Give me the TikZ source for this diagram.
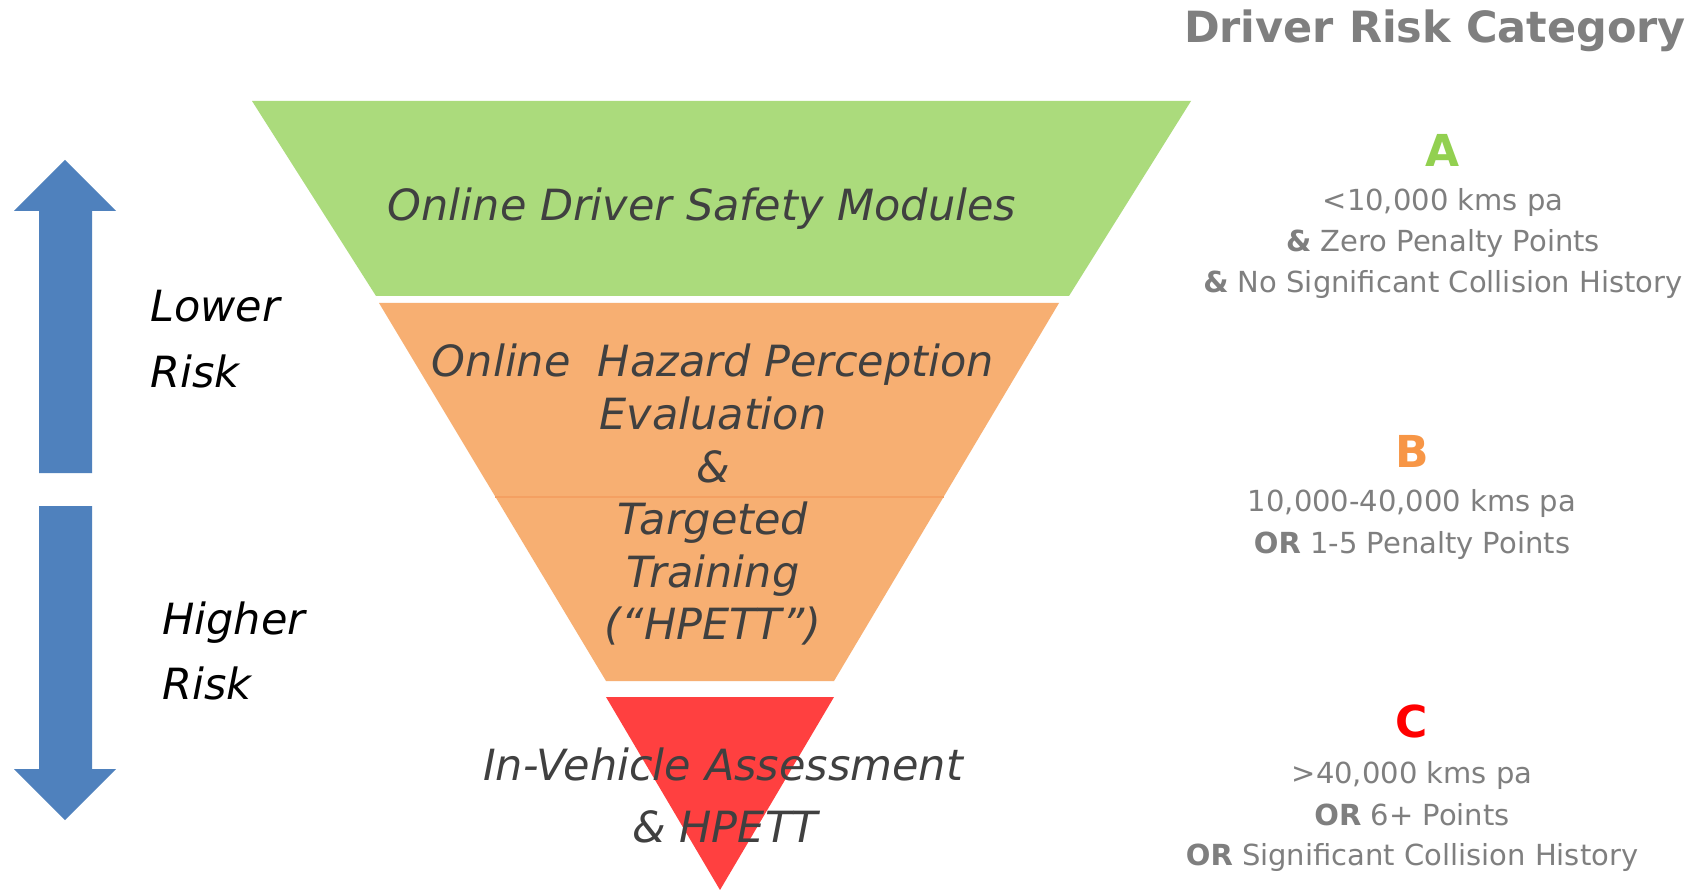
\documentclass[tikz,border=0pt]{standalone}
\usepackage{fontspec}
\setmainfont{DejaVu Sans}[ItalicFont={DejaVu Sans Oblique},BoldFont={DejaVu Sans Bold},BoldItalicFont={DejaVu Sans Bold Oblique}]
\definecolor{lgreen}{HTML}{ABDB7C}
\definecolor{lorange}{HTML}{F7AF72}
\definecolor{sepor}{HTML}{F4A062}
\definecolor{lred}{HTML}{FF4040}
\definecolor{arrowblue}{HTML}{4F81BD}
\definecolor{funnelgray}{HTML}{404040}
\definecolor{infogray}{HTML}{7F7F7F}
\definecolor{catA}{HTML}{92D050}
\definecolor{catB}{HTML}{F79646}
\definecolor{catC}{HTML}{FF0000}
\begin{document}
\begin{tikzpicture}[x=1pt,y=-1pt,
  funtext/.style={anchor=base,inner sep=0pt,text=funnelgray,font=\fontsize{43}{52}\selectfont\itshape},
  risktext/.style={anchor=base west,inner sep=0pt,text=black,font=\fontsize{43}{52}\selectfont\itshape},
  cattext/.style={anchor=base,inner sep=0pt,font=\fontsize{44}{52}\selectfont\bfseries},
  infotext/.style={anchor=base,inner sep=0pt,text=infogray,font=\fontsize{29}{36}\selectfont},
  titletext/.style={anchor=base,inner sep=0pt,text=infogray,font=\fontsize{43}{52}\selectfont\bfseries}]
\useasboundingbox (0,0) rectangle (1702,890);
\fill[white] (0,0) rectangle (1702,890);
% funnel
\fill[lgreen] (252,101) -- (1191,101) -- (1069,296) -- (376,296) -- cycle;
\fill[lorange] (379,303) -- (1059,303) -- (834,681) -- (606,681) -- cycle;
\draw[sepor,line width=1.5pt] (495,497) -- (944,497);
\fill[lred] (606,697) -- (834,697) -- (720,890) -- cycle;
% arrows
\fill[arrowblue] (65,160) -- (116,211) -- (92,211) -- (92,473) -- (39,473) -- (39,211) -- (14,211) -- cycle;
\fill[arrowblue] (39,506) -- (92,506) -- (92,769) -- (116,769) -- (65,820) -- (14,769) -- (39,769) -- cycle;
% title
\node[titletext] (title) at (1435,43) {Driver Risk Category};
% funnel texts
\node[funtext] (g1) at (702,221) {Online Driver Safety Modules};
\node[funtext] (o1) at (713,377) {Online\ \ Hazard Perception};
\node[funtext] (o2) at (713,429.5) {Evaluation};
\node[funtext] (o3) at (713,482) {\&};
\node[funtext] (o4) at (713,534.5) {Targeted};
\node[funtext] (o5) at (713,587) {Training};
\node[funtext] (o6) at (713,639.5) {(“HPETT”)};
\node[funtext] (r1) at (723,780) {In-Vehicle Assessment};
\node[funtext] (r2) at (725,842) {\& HPETT};
% left labels
\node[risktext] (lw1) at (150,322) {Lower};
\node[risktext] (lw2) at (150,387) {Risk};
\node[risktext] (hi1) at (162,634) {Higher};
\node[risktext] (hi2) at (162,699) {Risk};
% category A
\node[cattext,text=catA] (ca) at (1443,167) {A};
\node[infotext] (a1) at (1443,211) {<10,000 kms pa};
\node[infotext] (a2) at (1443,252) {\textbf{\&} Zero Penalty Points};
\node[infotext] (a3) at (1443,293) {\textbf{\&} No Significant Collision History};
% category B
\node[cattext,text=catB] (cb) at (1412,467) {B};
\node[infotext] (b1) at (1412,511) {10,000-40,000 kms pa};
\node[infotext] (b2) at (1412,553) {\textbf{OR} 1-5 Penalty Points};
% category C
\node[cattext,text=catC] (cc) at (1412,737) {C};
\node[infotext] (c1) at (1412,783) {>40,000 kms pa};
\node[infotext] (c2) at (1412,825) {\textbf{OR} 6+ Points};
\node[infotext] (c3) at (1412,865) {\textbf{OR} Significant Collision History};
\end{tikzpicture}
\end{document}
